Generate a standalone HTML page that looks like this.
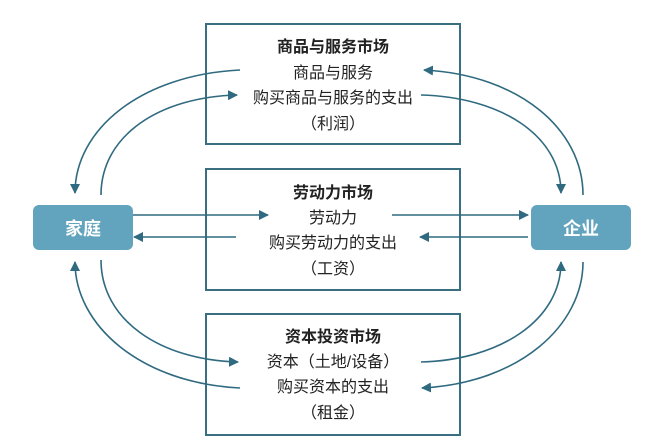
<!DOCTYPE html>
<html><head><meta charset="utf-8"><style>
html,body{margin:0;padding:0;background:#fff;width:660px;height:448px;overflow:hidden}
svg{display:block}
text{font-family:"Liberation Sans","Noto Sans CJK SC",sans-serif;font-size:16px;fill:#222;text-anchor:middle}
.t{font-weight:bold}
</style></head><body>
<svg width="660" height="448" viewBox="0 0 660 448" xmlns="http://www.w3.org/2000/svg">
<defs><marker id="a" viewBox="0 0 10 10" refX="9" refY="5" markerWidth="10" markerHeight="10" markerUnits="userSpaceOnUse" orient="auto"><path d="M0,0 L10,5 L0,10 z" fill="#2f6a80"/></marker></defs>
<g fill="none" stroke="#3a6f82" stroke-width="2">
<rect x="206" y="24" width="254" height="120"/>
<rect x="206" y="169" width="254" height="121"/>
<rect x="206" y="314" width="254" height="121"/>
</g>
<rect x="33" y="205" width="100" height="45" rx="6" fill="#62a4be"/>
<rect x="531" y="205" width="100" height="45" rx="6" fill="#62a4be"/>
<text x="83" y="235" style="fill:#fff;font-weight:bold;font-size:18px">家庭</text>
<text x="581" y="235" style="fill:#fff;font-weight:bold;font-size:18px">企业</text>
<text class="t" x="333" y="52">商品与服务市场</text>
<text x="333" y="78">商品与服务</text>
<text x="333" y="103">购买商品与服务的支出</text>
<text x="333" y="129">（利润）</text>
<text class="t" x="333" y="198">劳动力市场</text>
<text x="333" y="223">劳动力</text>
<text x="333" y="248">购买劳动力的支出</text>
<text x="333" y="274">（工资）</text>
<text class="t" x="333" y="342">资本投资市场</text>
<text x="333" y="367">资本（土地/设备）</text>
<text x="333" y="392">购买资本的支出</text>
<text x="333" y="418">（租金）</text>
<g fill="none" stroke="#2f6a80" stroke-width="1.6" marker-end="url(#a)">
<path d="M240,70 C140,75 75,130 75,193"/>
<path d="M101,195 C101,135 160,97 237,95"/>
<path d="M583,195 C583,130 520,75 424,70"/>
<path d="M421,95 C500,97 561,135 561,193"/>
<path d="M133,215 L268,215"/>
<path d="M392,215 L528,215"/>
<path d="M528,237 L420,237"/>
<path d="M236,237 L134,237"/>
<path d="M101,260 C101,320 160,360 238,362"/>
<path d="M240,388 C140,383 75,325 75,262"/>
<path d="M421,362 C500,360 561,320 561,262"/>
<path d="M583,262 C583,325 520,383 422,388"/>
</g>
</svg>
</body></html>
